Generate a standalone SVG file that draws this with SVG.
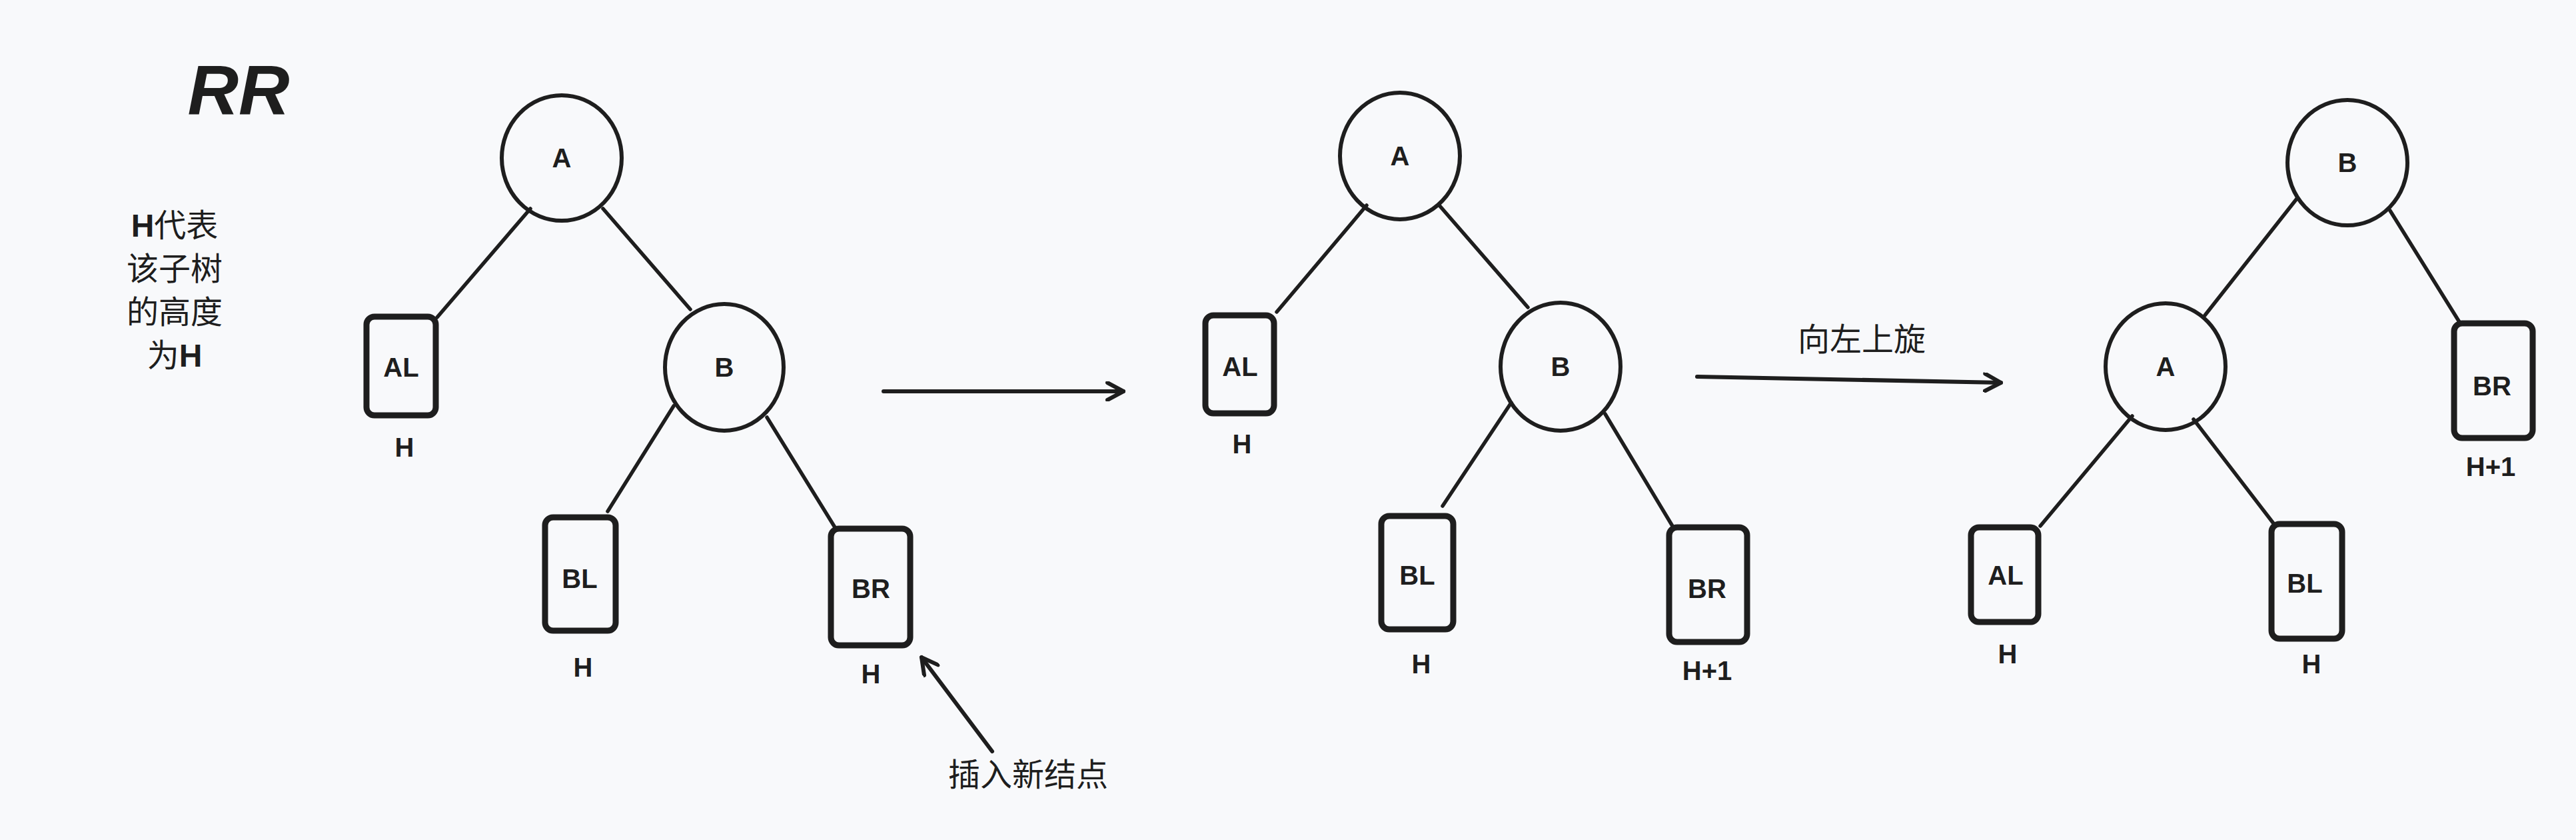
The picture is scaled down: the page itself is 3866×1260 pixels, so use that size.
<svg xmlns="http://www.w3.org/2000/svg" width="3866" height="1260" viewBox="0 0 3866 1260">
<defs>
<style>
.bg{fill:#f8f9fb}
.circ{fill:none;stroke:#1e1e1e;stroke-width:6}
.box{fill:none;stroke:#1e1e1e;stroke-width:9}
.edge{stroke:#1e1e1e;stroke-width:5.5;stroke-linecap:round;fill:none}
.arrow{stroke:#1e1e1e;stroke-width:6;stroke-linecap:round;fill:none}
.lbl{font-family:"Liberation Sans","DejaVu Sans",sans-serif;font-weight:bold;font-size:40px;fill:#1e1e1e;text-anchor:middle}
.cjk{font-family:"Noto Sans CJK SC","Noto Sans",sans-serif;font-size:48px;fill:#1e1e1e;text-anchor:middle}
.hb{font-family:"Liberation Sans","DejaVu Sans",sans-serif;font-weight:bold}
</style>
<marker id="ah" viewBox="0 0 30 30" refX="27" refY="15" markerWidth="30" markerHeight="30" markerUnits="userSpaceOnUse" orient="auto">
<path d="M3,2 L27,15 L3,28" fill="none" stroke="#1e1e1e" stroke-width="6" stroke-linecap="round" stroke-linejoin="round"/>
</marker>
</defs>
<rect class="bg" x="0" y="0" width="3866" height="1260"/>

<text x="358" y="172" font-family="Liberation Sans, DejaVu Sans, sans-serif" font-weight="bold" font-style="italic" font-size="106" fill="#1e1e1e" text-anchor="middle">RR</text>

<g id="note">
<text class="cjk" x="262" y="355"><tspan class="hb">H</tspan>代表</text>
<text class="cjk" x="262" y="420">该子树</text>
<text class="cjk" x="262" y="485">的高度</text>
<text class="cjk" x="262" y="550">为<tspan class="hb">H</tspan></text>
</g>

<g id="connectors">
<!-- tree 1 -->
<line class="edge" x1="796" y1="313" x2="656" y2="476"/>
<line class="edge" x1="905" y1="313" x2="1036" y2="464"/>
<line class="edge" x1="1011" y1="609" x2="912" y2="767"/>
<line class="edge" x1="1151" y1="626" x2="1253" y2="791"/>
<line class="arrow" x1="1489" y1="1127" x2="1383" y2="986" marker-end="url(#ah)"/>
<line class="arrow" x1="1326" y1="587" x2="1686" y2="587" marker-end="url(#ah)"/>
<!-- tree 2 -->
<line class="edge" x1="2051" y1="308" x2="1916" y2="468"/>
<line class="edge" x1="2160" y1="308" x2="2293" y2="461"/>
<line class="edge" x1="2268" y1="604" x2="2165" y2="759"/>
<line class="edge" x1="2409" y1="621" x2="2510" y2="789"/>
<line class="arrow" x1="2547" y1="565" x2="3003" y2="574" marker-end="url(#ah)"/>
<!-- tree 3 -->
<line class="edge" x1="3447" y1="298" x2="3309" y2="473"/>
<line class="edge" x1="3587" y1="316" x2="3691" y2="483"/>
<line class="edge" x1="3200" y1="624" x2="3062" y2="789"/>
<line class="edge" x1="3292" y1="629" x2="3415" y2="789"/>
</g>

<text class="cjk" x="1543" y="1179">插入新结点</text>
<text class="cjk" x="2794" y="526">向左上旋</text>

<!-- Tree 1 -->
<g id="t1-A"><ellipse class="circ" cx="843" cy="237" rx="90" ry="94"/><text class="lbl" x="843" y="251">A</text></g>
<g id="t1-AL"><rect class="box" x="550" y="475" width="104" height="148" rx="12"/><text class="lbl" x="602" y="565">AL</text><text class="lbl" x="607" y="685">H</text></g>
<g id="t1-B"><ellipse class="circ" cx="1087" cy="551" rx="89" ry="95"/><text class="lbl" x="1087" y="565">B</text></g>
<g id="t1-BL"><rect class="box" x="818" y="776" width="106" height="170" rx="12"/><text class="lbl" x="870" y="882">BL</text><text class="lbl" x="875" y="1015">H</text></g>
<g id="t1-BR"><rect class="box" x="1247" y="793" width="119" height="175" rx="12"/><text class="lbl" x="1307" y="897">BR</text><text class="lbl" x="1307" y="1025">H</text></g>

<!-- Tree 2 -->
<g id="t2-A"><ellipse class="circ" cx="2101" cy="234" rx="90" ry="95"/><text class="lbl" x="2101" y="248">A</text></g>
<g id="t2-AL"><rect class="box" x="1809" y="473" width="103" height="147" rx="12"/><text class="lbl" x="1861" y="564">AL</text><text class="lbl" x="1864" y="680">H</text></g>
<g id="t2-B"><ellipse class="circ" cx="2342" cy="550" rx="90" ry="96"/><text class="lbl" x="2342" y="564">B</text></g>
<g id="t2-BL"><rect class="box" x="2073" y="774" width="108" height="170" rx="12"/><text class="lbl" x="2127" y="877">BL</text><text class="lbl" x="2133" y="1010">H</text></g>
<g id="t2-BR"><rect class="box" x="2505" y="791" width="117" height="172" rx="12"/><text class="lbl" x="2562" y="897">BR</text><text class="lbl" x="2562" y="1020">H+1</text></g>

<!-- Tree 3 -->
<g id="t3-B"><ellipse class="circ" cx="3523" cy="244" rx="90" ry="94"/><text class="lbl" x="3523" y="258">B</text></g>
<g id="t3-A"><ellipse class="circ" cx="3250" cy="550" rx="90" ry="95"/><text class="lbl" x="3250" y="564">A</text></g>
<g id="t3-BR"><rect class="box" x="3683" y="485" width="118" height="172" rx="12"/><text class="lbl" x="3740" y="593">BR</text><text class="lbl" x="3738" y="714">H+1</text></g>
<g id="t3-AL"><rect class="box" x="2958" y="791" width="101" height="142" rx="12"/><text class="lbl" x="3010" y="877">AL</text><text class="lbl" x="3013" y="995">H</text></g>
<g id="t3-BL"><rect class="box" x="3409" y="786" width="106" height="172" rx="12"/><text class="lbl" x="3459" y="889">BL</text><text class="lbl" x="3469" y="1010">H</text></g>
</svg>
